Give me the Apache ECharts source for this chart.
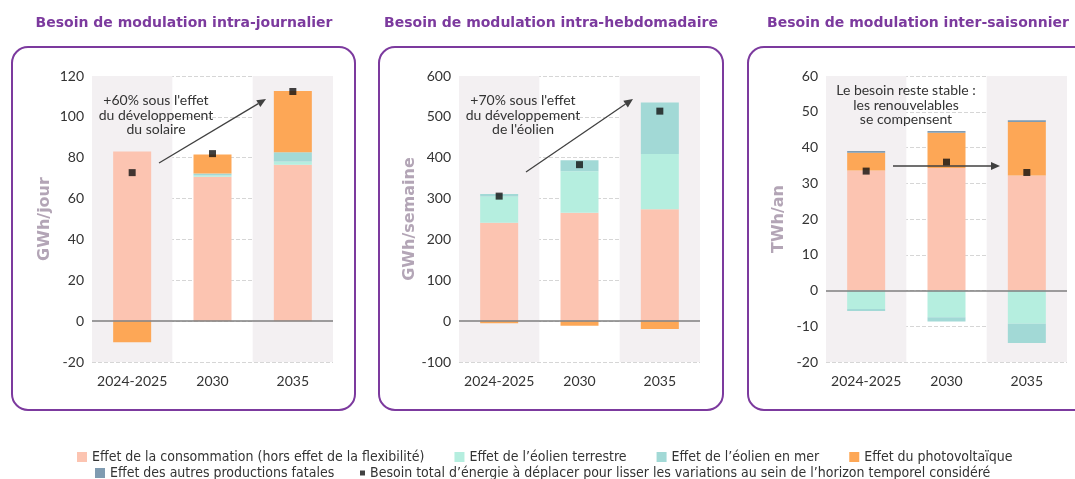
<!DOCTYPE html>
<html>
<head>
<meta charset="utf-8">
<script src="https://cdn.jsdelivr.net/npm/echarts@6/dist/echarts.min.js"></script>
<style>
html, body { margin: 0; padding: 0; background: #fff; }
#main { width: 1075px; height: 479px; }
</style>
</head>
<body>
<div id="main"></div>
<script>
var categories = ['2024-2025', '2030', '2035'];

// intra-journalier (GWh/jour)
var conso1 = [83, 70.7, 76.5];
var terre1 = [0, 0.6, 1.6];
var mer1 = [0, 1.0, 4.6];
var pv1 = [-10.3, 9.3, 30];
var autres1 = [0, 0, 0];
var total1 = [72.7, 82, 112.4];

// intra-hebdomadaire (GWh/semaine)
var conso2 = [241, 265, 274];
var terre2 = [64, 102, 135];
var mer2 = [6, 27, 126];
var pv2 = [-5, -11, -19];
var autres2 = [0, 0, 0];
var total2 = [306, 383, 514];

// inter-saisonnier (TWh/an)
var conso3 = [33.6, 34.3, 32.2];
var terre3 = [-5.2, -7.5, -9.3];
var mer3 = [-0.5, -1.2, -5.4];
var pv3 = [4.9, 9.8, 14.9];
var autres3 = [0.5, 0.5, 0.5];
var total3 = [33.4, 35.9, 33];

var yNames = ['GWh/jour', 'GWh/semaine', 'TWh/an'];
var yMin = [-20, -100, -20];
var yMax = [120, 600, 60];
var yStep = [20, 100, 10];

var names = [
    'Effet de la consommation (hors effet de la flexibilité)',
    'Effet de l\u2019éolien terrestre',
    'Effet de l\u2019éolien en mer',
    'Effet du photovoltaïque',
    'Effet des autres productions fatales',
    'Besoin total d\u2019énergie à déplacer pour lisser les variations au sein de l\u2019horizon temporel considéré'
];
var colors = ['#fcc4b1', '#b5eedf', '#a2d9d6', '#fda756', '#7f9bb1', '#111111'];

var panels = [
    [conso1, terre1, mer1, pv1, autres1, total1],
    [conso2, terre2, mer2, pv2, autres2, total2],
    [conso3, terre3, mer3, pv3, autres3, total3]
];
var gridLeft = [92, 459, 826];

var grids = [], xAxes = [], yAxes = [], series = [];
var tickFont = 'Lato, "Open Sans", sans-serif';

for (var p = 0; p < 3; p++) {
    grids.push({ left: gridLeft[p], top: 76, width: 241, height: 286 });
    xAxes.push({
        type: 'category', gridIndex: p, data: categories,
        axisLine: { show: false, onZero: false },
        axisTick: { show: false, interval: 0 },
        axisLabel: { color: '#333', fontSize: 14, fontFamily: tickFont, margin: 12, interval: 0 },
        splitArea: { show: true, interval: 0, areaStyle: { color: ['#f3f0f2', 'rgba(255,255,255,0)'] } }
    });
    yAxes.push({
        type: 'value', gridIndex: p, min: yMin[p], max: yMax[p], interval: yStep[p],
        name: yNames[p], nameLocation: 'middle', nameRotate: 90, nameGap: 39,
        nameTextStyle: { color: '#b3a5b6', fontSize: 16, fontWeight: 'bold', fontFamily: '"DejaVu Sans", Verdana, sans-serif' },
        axisLine: { show: false }, axisTick: { show: false },
        axisLabel: { color: '#333', fontSize: 14, fontFamily: tickFont, margin: 8 },
        splitLine: { lineStyle: { color: '#d6d6d6', type: 'dashed' } }
    });
    var d = panels[p];
    for (var s = 0; s < 5; s++) {
        var ser = {
            name: names[s], type: 'bar', stack: 'p' + p,
            xAxisIndex: p, yAxisIndex: p, data: d[s],
            barWidth: 38, itemStyle: { color: colors[s] }
        };
        if (s === 0) {
            ser.markLine = {
                silent: true, symbol: 'none', label: { show: false },
                lineStyle: { color: '#7f7f7f', type: 'solid', width: 1.5 },
                data: [{ yAxis: 0 }]
            };
        }
        series.push(ser);
    }
    series.push({
        name: names[5], type: 'scatter', xAxisIndex: p, yAxisIndex: p, data: d[5],
        symbol: 'rect', symbolSize: 7, itemStyle: { color: colors[5] }, z: 5
    });
}

function arrow(x1, y1, x2, y2) {
    var a = Math.atan2(y2 - y1, x2 - x1), L = 9, W = 4;
    var bx = x2 - L * Math.cos(a), by = y2 - L * Math.sin(a);
    return [
        { type: 'line', shape: { x1: x1, y1: y1, x2: bx, y2: by }, style: { stroke: '#404040', lineWidth: 1.3 } },
        { type: 'polygon', shape: { points: [[x2, y2], [bx - W * Math.sin(a), by + W * Math.cos(a)], [bx + W * Math.sin(a), by - W * Math.cos(a)]] }, style: { fill: '#404040' } }
    ];
}

var titleStyle = { fill: '#7c3a9e', font: 'bold 14px "DejaVu Sans", Verdana, sans-serif', textAlign: 'center', textVerticalAlign: 'middle' };
var noteFont = '14px Lato, "Open Sans", sans-serif';

var graphics = [
    { type: 'text', x: 184, y: 23, style: Object.assign({ text: 'Besoin de modulation intra-journalier' }, titleStyle) },
    { type: 'text', x: 551, y: 23, style: Object.assign({ text: 'Besoin de modulation intra-hebdomadaire' }, titleStyle) },
    { type: 'text', x: 918, y: 23, style: Object.assign({ text: 'Besoin de modulation inter-saisonnier' }, titleStyle) },
    { type: 'rect', shape: { x: 12, y: 47, width: 343, height: 363, r: 16 }, style: { fill: 'none', stroke: '#7c3a9e', lineWidth: 2 } },
    { type: 'rect', shape: { x: 379, y: 47, width: 344, height: 363, r: 16 }, style: { fill: 'none', stroke: '#7c3a9e', lineWidth: 2 } },
    { type: 'rect', shape: { x: 748, y: 47, width: 400, height: 363, r: 16 }, style: { fill: 'none', stroke: '#7c3a9e', lineWidth: 2 } },
    { type: 'text', x: 156, y: 115, style: { text: '+60% sous l\'effet\ndu développement\ndu solaire', font: noteFont, fill: '#333', textAlign: 'center', textVerticalAlign: 'middle', lineHeight: 14.5 } },
    { type: 'text', x: 523, y: 115, style: { text: '+70% sous l\'effet\ndu développement\nde l\'éolien', font: noteFont, fill: '#333', textAlign: 'center', textVerticalAlign: 'middle', lineHeight: 14.5 } },
    { type: 'text', x: 906, y: 105, style: { text: 'Le besoin reste stable :\nles renouvelables\nse compensent', font: noteFont, fill: '#333', textAlign: 'center', textVerticalAlign: 'middle', lineHeight: 14.5 } }
].concat(arrow(159, 163, 266, 99), arrow(526, 172, 633, 99), arrow(893, 166, 1000, 166));

graphics.forEach(function (g) { g.z = 10; });

var legendFont = '"Liberation Sans Narrow", "DejaVu Sans Condensed", "Roboto Condensed", sans-serif';
var legendText = { color: '#333', fontSize: 14, fontFamily: legendFont };

var myChart = echarts.init(document.getElementById('main'));
var option = {
    animation: false,
    grid: grids,
    xAxis: xAxes,
    yAxis: yAxes,
    legend: [
        { left: 77, top: 450, padding: 0, itemWidth: 10, itemHeight: 10, itemGap: 30, icon: 'rect', textStyle: legendText, selectedMode: false,
          data: names.slice(0, 4) },
        { left: 95, top: 466, padding: 0, itemWidth: 10, itemHeight: 10, icon: 'rect', textStyle: legendText, selectedMode: false,
          data: [names[4]] },
        { left: 360, top: 466, padding: 0, itemWidth: 5, itemHeight: 5, icon: 'rect', textStyle: legendText, selectedMode: false,
          data: [names[5]] }
    ],
    graphic: graphics,
    series: series
};
myChart.setOption(option);
</script>
</body>
</html>
